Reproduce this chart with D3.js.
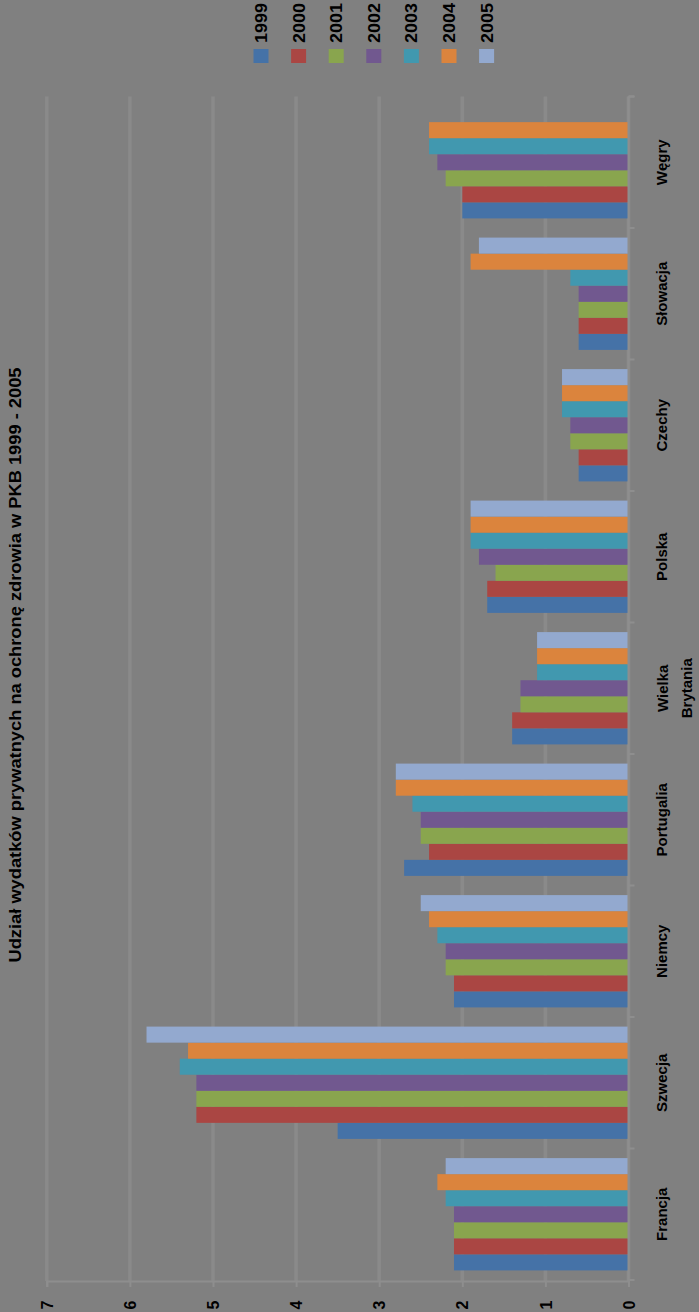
<!DOCTYPE html>
<html><head><meta charset="utf-8">
<script src="https://cdn.jsdelivr.net/npm/d3@7"></script>
<style>
html,body{margin:0;padding:0;background:#808080;}
text{font-family:"Liberation Sans",Arial,sans-serif;font-weight:bold;fill:#000;}
</style></head>
<body>
<svg id="c" width="699" height="1312"></svg>
<script>
const title = "Udział wydatków prywatnych na ochronę zdrowia w PKB 1999 - 2005";
const categories = ["Francja","Szwecja","Niemcy","Portugalia","Wielka Brytania","Polska","Czechy","Słowacja","Węgry"];
const seriesNames = ["1999","2000","2001","2002","2003","2004","2005"];
const colors = ["#4572A7","#AA4643","#89A54E","#71588F","#4198AF","#DB843D","#93A9CF"];
const v1999 = [2.1,3.5,2.1,2.7,1.4,1.7,0.6,0.6,2.0];
const v2000 = [2.1,5.2,2.1,2.4,1.4,1.7,0.6,0.6,2.0];
const v2001 = [2.1,5.2,2.2,2.5,1.3,1.6,0.7,0.6,2.2];
const v2002 = [2.1,5.2,2.2,2.5,1.3,1.8,0.7,0.6,2.3];
const v2003 = [2.2,5.4,2.3,2.6,1.1,1.9,0.8,0.7,2.4];
const v2004 = [2.3,5.3,2.4,2.8,1.1,1.9,0.8,1.9,2.4];
const v2005 = [2.2,5.8,2.5,2.8,1.1,1.9,0.8,1.8,null];
const valueTicks = [0,1,2,3,4,5,6,7];

const seriesValues = [v1999,v2000,v2001,v2002,v2003,v2004,v2005];
const svg = d3.select("#c");
svg.append("rect").attr("width",699).attr("height",1312).attr("fill","#808080");

const x = d3.scaleLinear().domain([0,7]).range([628.5,46.8]);
const y = d3.scaleBand().domain(categories.slice().reverse()).range([96.5,1280]).padding(0);
const gap = 9.6;
const yi = d3.scaleBand().domain(seriesNames.slice().reverse()).range([gap, y.bandwidth()-gap]).padding(0);

svg.append("g").selectAll("line").data(valueTicks).join("line")
  .attr("x1",d=>x(d)).attr("x2",d=>x(d)).attr("y1",96.5).attr("y2",1281)
  .attr("stroke","#8a8a8a").attr("stroke-width",3.5);

const groups = svg.append("g").selectAll("g").data(categories).join("g")
  .attr("transform",d=>`translate(0,${y(d)})`);
groups.selectAll("rect").data((c,ci)=>seriesNames.map((s,si)=>({s,si,v:seriesValues[si][ci]})).filter(d=>d.v!=null))
  .join("rect")
  .attr("x",d=>x(d.v)).attr("width",d=>x(0)-x(d.v))
  .attr("y",d=>yi(d.s)).attr("height",yi.bandwidth())
  .attr("fill",d=>colors[d.si]);

const ax = svg.append("g").attr("transform","translate(0,1281)")
  .call(d3.axisBottom(x).tickValues(valueTicks).tickSize(6).tickFormat(d3.format("d")));
ax.select(".domain").attr("stroke","#8e8e8e").attr("stroke-width",2);
ax.selectAll(".tick line").attr("stroke","#8e8e8e").attr("stroke-width",2);
ax.selectAll(".tick text").attr("y",0).attr("dy","0.35em")
  .attr("transform","translate(0,24) rotate(-90)")
  .attr("text-anchor","middle").style("font-size","16px").attr("fill","#000");

const cg = svg.append("g");
cg.append("line").attr("x1",x(0)).attr("x2",x(0)).attr("y1",96.5).attr("y2",1281)
  .attr("stroke","#8e8e8e").attr("stroke-width",2);
const bounds = categories.map(c=>y(c)).concat([96.5,1280]);
cg.selectAll("line.t").data(bounds).join("line").attr("class","t")
  .attr("x1",x(0)).attr("x2",x(0)+6).attr("y1",d=>d).attr("y2",d=>d)
  .attr("stroke","#8e8e8e").attr("stroke-width",2);
const lab = cg.selectAll("text").data(categories).join("text")
  .attr("transform",d=>`translate(${d==="Wielka Brytania"?672:662},${y(d)+y.bandwidth()/2}) rotate(-90)`)
  .attr("text-anchor","middle").style("font-size","15px");
lab.each(function(d){
  const words = d==="Wielka Brytania" ? ["Wielka","Brytania"] : [d];
  d3.select(this).selectAll("tspan").data(words).join("tspan")
    .attr("x",0).attr("dy",(w,i)=> i===0 ? (words.length>1?"-0.25em":"0.35em") : "1.55em").text(w=>w);
});

svg.append("text").attr("transform","translate(15,665) rotate(-90)")
  .attr("text-anchor","middle").attr("dy","0.35em").style("font-size","16px")
  .attr("textLength",595).attr("lengthAdjust","spacingAndGlyphs").text(title);

const leg = svg.append("g").selectAll("g").data(seriesNames).join("g")
  .attr("transform",(d,i)=>`translate(${261+i*37.6},0)`);
leg.append("rect").attr("x",-7.5).attr("y",49).attr("width",15).attr("height",14)
  .attr("fill",(d,i)=>colors[i]);
leg.append("text").attr("transform","translate(0,23) rotate(-90)")
  .attr("text-anchor","middle").attr("dy","0.35em").style("font-size","17px")
  .attr("textLength",40).attr("lengthAdjust","spacingAndGlyphs").text(d=>d);
</script>
</body></html>
